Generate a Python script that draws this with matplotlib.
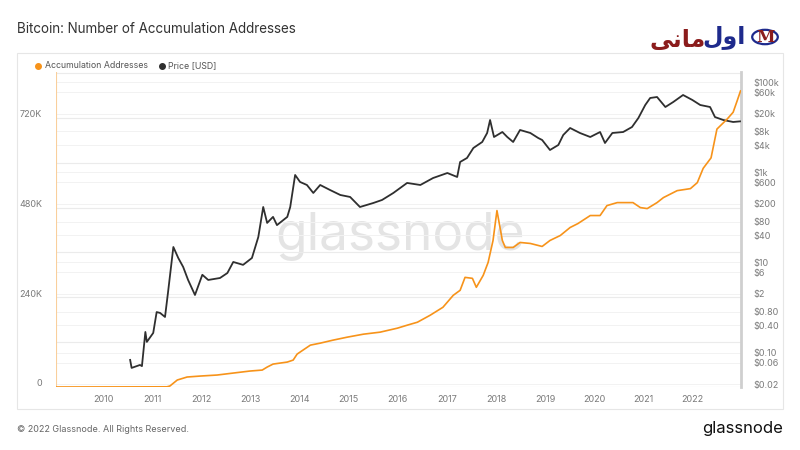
import matplotlib
matplotlib.use("Agg")
import matplotlib.pyplot as plt
import matplotlib.transforms as mtransforms
from matplotlib.lines import Line2D
from matplotlib.patches import Rectangle, Circle

plt.rcParams["font.family"] = ["Inter", "DejaVu Sans"]

# accumulation addresses (thousands)
acc_years = [2009.05, 2011.30, 2011.36, 2011.51, 2011.71, 2011.98, 2012.32, 2012.65, 2012.99,
             2013.24, 2013.34, 2013.46, 2013.75, 2013.87, 2013.95, 2014.07, 2014.22, 2014.42,
             2014.68, 2014.97, 2015.30, 2015.64, 2015.99, 2016.19, 2016.40, 2016.66, 2016.92,
             2017.13, 2017.27, 2017.37, 2017.52, 2017.60, 2017.74, 2017.84, 2017.94, 2018.02,
             2018.13, 2018.19, 2018.35, 2018.49, 2018.70, 2018.94, 2019.10, 2019.31, 2019.51,
             2019.67, 2019.92, 2020.12, 2020.26, 2020.47, 2020.79, 2020.94, 2021.08, 2021.28,
             2021.41, 2021.69, 2021.96, 2022.10, 2022.22, 2022.38, 2022.50, 2022.71, 2022.83,
             2022.91, 2022.98]
acc_k = [0, 0.5, 2.7, 18.7, 26.7, 29.3, 32, 37.3, 42.7,
         45.3, 53.3, 61.3, 66.7, 72, 88, 98.7, 112, 117.3,
         125.3, 133.3, 141.3, 146.7, 157.3, 165.3, 173.3, 192, 213.3,
         245.3, 258.7, 293.3, 290.7, 266.7, 298.7, 333.3, 392, 472,
         392, 373.3, 373.3, 386.7, 384, 376, 392, 405.3, 426.7,
         437.3, 458.7, 458.7, 485.3, 493.3, 493.3, 480, 477.3, 493.3,
         506.7, 525.3, 530.7, 546.7, 585, 613, 690, 717, 735,
         765, 792]

# bitcoin price in USD
price_years = [2010.55, 2010.58, 2010.75, 2010.79, 2010.86, 2010.89, 2011.02, 2011.09, 2011.16,
               2011.26, 2011.32, 2011.43, 2011.53, 2011.63, 2011.73, 2011.87, 2012.02, 2012.14,
               2012.38, 2012.53, 2012.65, 2012.85, 2013.03, 2013.16, 2013.26, 2013.34, 2013.46,
               2013.54, 2013.75, 2013.81, 2013.91, 2014.01, 2014.15, 2014.28, 2014.42, 2014.62,
               2014.83, 2015.03, 2015.23, 2015.50, 2015.68, 2015.91, 2016.19, 2016.46, 2016.72,
               2017.01, 2017.21, 2017.27, 2017.41, 2017.54, 2017.72, 2017.82, 2017.88, 2017.96,
               2018.13, 2018.23, 2018.35, 2018.49, 2018.70, 2018.86, 2018.94, 2019.10, 2019.27,
               2019.37, 2019.51, 2019.71, 2019.92, 2020.12, 2020.22, 2020.37, 2020.59, 2020.77,
               2020.90, 2021.04, 2021.14, 2021.28, 2021.45, 2021.61, 2021.81, 2022.00, 2022.16,
               2022.36, 2022.46, 2022.63, 2022.83, 2022.97]
price_usd = [0.0686, 0.0456, 0.053, 0.050, 0.286, 0.172, 0.272, 0.79, 0.755,
             0.615, 2.1, 21.9, 12.5, 7.9, 4.07, 1.89, 5.3, 4.07,
             4.5, 5.8, 10.2, 8.8, 12.5, 36.5, 169, 75, 102,
             67, 102, 169, 867, 607, 520, 346, 520, 403,
             312, 282, 169, 207, 242, 346, 577, 520, 743,
             959, 783, 1684, 2065, 3440, 4677, 7400, 14360, 6030,
             7780, 6030, 4677, 8630, 7400, 5730, 5180, 3105, 4010,
             6680, 9550, 7400, 6030, 7780, 4440, 7400, 7780, 10040,
             15900, 30900, 44200, 46500, 27900, 36000, 51500, 39900, 30900,
             27900, 16700, 14360, 12980, 13400]

year_ticks = list(range(2010, 2023))
addr_ticks = [0, 240, 480, 720]
addr_labels = ["0", "240K", "480K", "720K"]
addr_grid = [0, 120, 240, 360, 480, 600, 720, 840]
price_ticks = [100000, 60000, 20000, 8000, 4000, 1000, 600, 200, 80, 40, 10, 6, 2,
               0.8, 0.4, 0.1, 0.06, 0.02]
price_labels = ["$100k", "$60k", "$20k", "$8k", "$4k", "$1k", "$600", "$200", "$80", "$40",
                "$10", "$6", "$2", "$0.80", "$0.40", "$0.10", "$0.06", "$0.02"]

orange = "#f7931a"
dark = "#2f2f2f"
grey_txt = "#7a7a7a"
addr_max = 842.7

fig = plt.figure(figsize=(8, 4.5), dpi=100)
fig.patch.set_facecolor("white")

# card border
fig.add_artist(Rectangle((17 / 800, 1 - 409 / 450), 766 / 800, 356 / 450,
                         transform=fig.transFigure, fill=False, edgecolor="#e6e6e6", lw=0.8))

ax = fig.add_axes([56 / 800, 1 - 387 / 450, 685 / 800, 315 / 450])
ax2 = ax.twinx()
# addresses axis on top so the orange line is not crossed by gridlines
ax.set_zorder(ax2.get_zorder() + 1)
ax.patch.set_visible(False)
ax2.patch.set_visible(True)
ax2.patch.set_facecolor("white")

ax.plot(acc_years, acc_k, color=orange, lw=1.2, zorder=3)
ax2.plot(price_years, price_usd, color=dark, lw=1.3, zorder=3)

ax.set_xlim(2009.04, 2022.99)
ax.set_ylim(0, addr_max)
ax2.set_yscale("log")
ax2.set_ylim(0.0172, 166700)

ax.set_yticks(addr_ticks)
ax.set_yticklabels(addr_labels)
ax.set_xticks(year_ticks)
ax.set_xticklabels([str(y) for y in year_ticks])
ax.tick_params(axis="both", which="both", length=0, labelsize=6.5, labelcolor=grey_txt)
ax.tick_params(axis="y", pad=10)
ax.tick_params(axis="x", pad=6)

# all gridlines live on the bottom axes
for g in addr_grid:
    ax2.plot([0, 1], [g / addr_max] * 2, transform=ax2.transAxes, color="#ebebeb", lw=0.8,
             zorder=1)
ax2.set_yticks(price_ticks)
ax2.set_yticklabels(price_labels)
ax2.minorticks_off()
ax2.grid(True, axis="y", color="#f2f2f2", lw=0.7, zorder=0)
ax2.set_axisbelow(True)
ax2.tick_params(axis="y", length=0, labelsize=6.5, labelcolor=grey_txt, pad=9)

# left labels sit a little above their gridlines
off = mtransforms.ScaledTranslation(0, 3 / 72, fig.dpi_scale_trans)
for lab in ax.get_yticklabels():
    lab.set_transform(lab.get_transform() + off)

for a in (ax, ax2):
    for s in ("top", "left", "bottom", "right"):
        a.spines[s].set_visible(False)
ax2.spines["right"].set_visible(True)
ax2.spines["right"].set_color("#cfcfcf")
ax2.spines["right"].set_linewidth(2)
ax2.plot([0, 0], [0, 1], transform=ax2.transAxes, color="#f9cf9c", lw=0.8, zorder=1)

# watermark
ax2.text(0.503, 0.479, "glassnode", transform=ax2.transAxes, fontsize=37, color="#e4e4e4",
         ha="center", va="center", zorder=0.5)

# title, legend, footer
fig.text(17 / 800, 1 - 29 / 450, "Bitcoin: Number of Accumulation Addresses", fontsize=9.7,
         color="#333333", va="center")
fig.add_artist(Line2D([38 / 800], [1 - 66 / 450], marker="o", ms=4, color=orange,
                      transform=fig.transFigure))
fig.text(45 / 800, 1 - 66 / 450, "Accumulation Addresses", fontsize=6.3, color="#555555",
         va="center")
fig.add_artist(Line2D([162 / 800], [1 - 66 / 450], marker="o", ms=4, color=dark,
                      transform=fig.transFigure))
fig.text(168 / 800, 1 - 66 / 450, "Price [USD]", fontsize=6.3, color="#555555", va="center")
fig.text(17 / 800, 1 - 430 / 450, "\u00a9 2022 Glassnode. All Rights Reserved.", fontsize=6.5,
         color="#666666", va="center")
fig.text(783 / 800, 1 - 429 / 450, "glassnode", fontsize=12, color="#111111", va="center",
         ha="right")

# top-right logo (اول مانی), glyphs in visual order
fig.text(706 / 800, 1 - 40 / 450, "\uFBFD\uFEE7\uFE8E\uFEE3", fontsize=17, color="#8b1c1c",
         fontweight="bold", family=["DejaVu Sans"], ha="right", va="center")
fig.text(746 / 800, 1 - 37 / 450, "\uFEDD\uFEED\uFE8D", fontsize=17, color="#1e2a8c",
         fontweight="bold", family=["DejaVu Sans"], ha="right", va="center")
fig.add_artist(Circle((765 / 800, 1 - 37 / 450), 0.016, transform=fig.transFigure,
                      fill=False, edgecolor="#1e2a8c", lw=1.6))
fig.text(765 / 800, 1 - 38 / 450, "M", fontsize=12, color="#8b1c1c", family=["DejaVu Serif"],
         fontweight="bold", ha="center", va="center")

fig.savefig("out.png", dpi=100, facecolor="white")
